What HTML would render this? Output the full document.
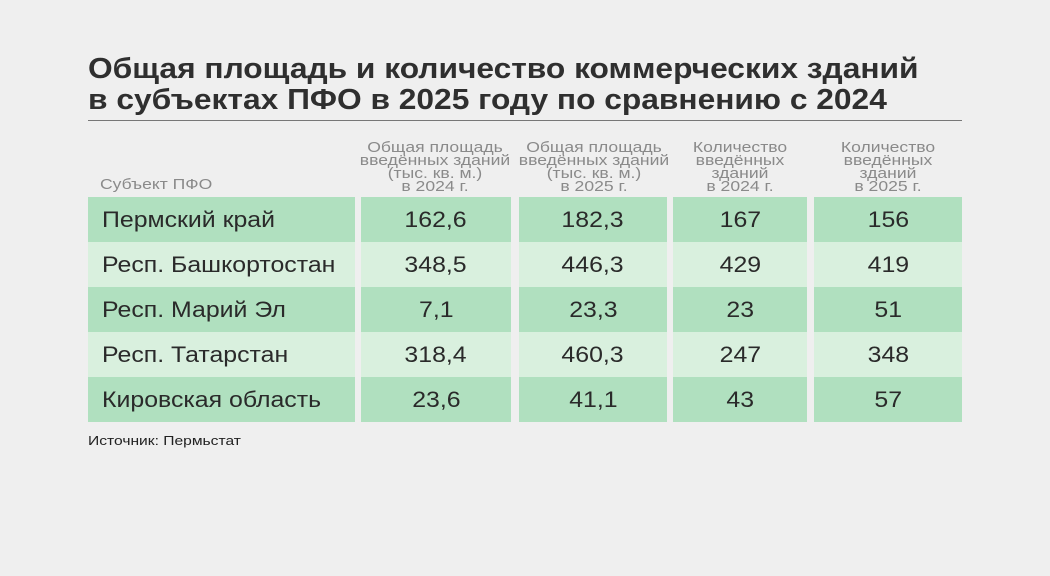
<!DOCTYPE html>
<html><head><meta charset="utf-8"><style>
body{margin:0;width:1050px;height:576px;background:#efefef;font-family:"Liberation Sans",sans-serif;position:relative;overflow:hidden}
.s{display:inline-block;white-space:nowrap}
.t{position:absolute;left:88px;top:54px;font-size:29px;font-weight:bold;color:#2f2f2f;line-height:31px;white-space:nowrap;transform:scaleX(1.094);transform-origin:0 0}
.hr{position:absolute;left:88px;top:120px;width:874px;height:1px;background:#777}
.h{position:absolute;color:#8a8a8a;font-size:15px;line-height:13px;text-align:center;white-space:nowrap;transform:scaleX(1.17)}
.c{position:absolute;height:45px;line-height:45px;font-size:22px;color:#2a2a2a;text-align:center;white-space:nowrap}
.c .s{transform:scaleX(1.13)}
.c.f .s{transform-origin:0 50%}
.d{background:#b0e0bf}.l{background:#d9f0de}
.src{position:absolute;left:88px;top:433px;font-size:13px;color:#222;transform:scaleX(1.2);transform-origin:0 0;white-space:nowrap}
</style></head><body>
<div class="t">Общая площадь и количество коммерческих зданий<br>в субъектах ПФО в 2025 году по сравнению с 2024</div>
<div class="hr"></div>
<div class="h" style="left:100px;top:178px;text-align:left;transform-origin:0 0">Субъект ПФО</div>
<div class="h" style="left:355px;width:160px;top:141px">Общая площадь<br>введённых зданий<br>(тыс. кв. м.)<br>в 2024 г.</div>
<div class="h" style="left:514px;width:160px;top:141px">Общая площадь<br>введённых зданий<br>(тыс. кв. м.)<br>в 2025 г.</div>
<div class="h" style="left:670px;width:140px;top:141px">Количество<br>введённых<br>зданий<br>в 2024 г.</div>
<div class="h" style="left:818px;width:140px;top:141px">Количество<br>введённых<br>зданий<br>в 2025 г.</div>
<div id="rows"></div>
<script>
var d=[["Пермский край","162,6","182,3","167","156"],["Респ. Башкортостан","348,5","446,3","429","419"],["Респ. Марий Эл","7,1","23,3","23","51"],["Респ. Татарстан","318,4","460,3","247","348"],["Кировская область","23,6","41,1","43","57"]];
var cols=[[88,267],[361,150],[519,148],[673,134],[814,148]];var h="";
d.forEach(function(r,i){var y=197+i*45;var k=i%2?"l":"d";r.forEach(function(v,j){var c=cols[j];h+='<div class="c '+k+(j==0?' f':'')+'" style="left:'+c[0]+'px;width:'+c[1]+'px;top:'+y+'px;'+(j==0?'text-align:left;padding-left:14px;box-sizing:border-box;':'')+'"><span class="s">'+v+'</span></div>';});});
document.getElementById("rows").innerHTML=h;
</script>
<div class="src">Источник: Пермьстат</div>
</body></html>
